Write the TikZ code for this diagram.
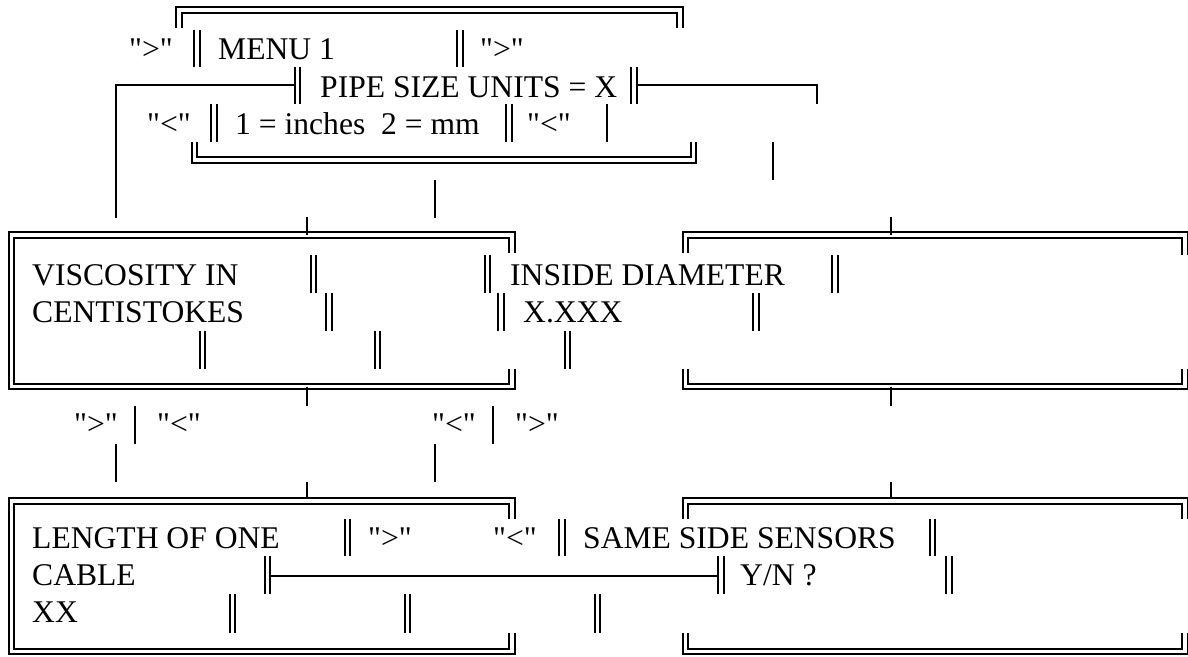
\documentclass[tikz,border=0pt]{standalone}
\usepackage{fontspec}
\setmainfont{Liberation Serif}
\usepackage{tikz}
\usetikzlibrary{positioning}
\newcommand{\qgt}{\textquotedbl>\textquotedbl}
\newcommand{\qlt}{\textquotedbl<\textquotedbl}

\begin{document}
\begin{tikzpicture}[
  x=1pt,y=-1pt,
  txt/.style={anchor=base west,inner sep=0pt,font=\fontsize{31.6}{37}\selectfont},
  dline/.style={double,double distance=3.4pt,line width=2pt,line join=miter},
  sline/.style={line width=2.5pt},
]
\useasboundingbox (0,0) rectangle (1188,656);

\node[txt] (gtA) at (129,59) {\qgt};
\node[txt] (menu) at (218,59) {MENU 1};
\node[txt] (gtB) at (480,59) {\qgt};
\node[txt] (pipe) at (320,97) {PIPE SIZE UNITS = X};
\node[txt] (ltA) at (147,134) {\qlt};
\node[txt] (units) at (235,134) {1 = inches\ \ 2 = mm};
\node[txt] (ltB) at (527,134) {\qlt};
\node[txt] (visc) at (32,285) {VISCOSITY IN};
\node[txt] (cst) at (32,322) {CENTISTOKES};
\node[txt] (diam) at (510,285) {INSIDE DIAMETER};
\node[txt] (xxx) at (523,322) {X.XXX};
\node[txt] (gtC) at (74,434) {\qgt};
\node[txt] (ltC) at (157,434) {\qlt};
\node[txt] (ltD) at (432,434) {\qlt};
\node[txt] (gtD) at (515,434) {\qgt};
\node[txt] (len) at (32,548) {LENGTH OF ONE};
\node[txt] (gtE) at (368,548) {\qgt};
\node[txt] (ltE) at (493,548) {\qlt};
\node[txt] (same) at (583,548) {SAME SIDE SENSORS};
\node[txt] (cable) at (32,585) {CABLE};
\node[txt] (yn) at (740,585) {Y/N ?};
\node[txt] (xx) at (32,622) {XX};

% menu frame
\draw[dline] (179,28) -- (179,10) -- (680,10) -- (680,28);
\draw[dline] (194.5,142) -- (194.5,160) -- (693.5,160) -- (693.5,142);
\draw[dline] (197,30) -- (197,67);
\draw[dline] (460,30) -- (460,67);
\draw[dline] (297.5,67) -- (297.5,104);
\draw[dline] (634,67) -- (634,104);
\draw[dline] (214,104) -- (214,142);
\draw[dline] (509,104) -- (509,142);
\draw[sline] (116,218) -- (116,85) -- (295,85);
\draw[sline] (636.5,85) -- (817,85) -- (817,104);
\draw[sline] (607,104) -- (607,142);
\draw[sline] (773,142) -- (773,180);
\draw[sline] (435,180) -- (435,218);

% upper boxes
\draw[dline] (512,253) -- (512,235) -- (11.5,235) -- (11.5,386.5) -- (512,386.5) -- (512,369);
\draw[dline] (685.5,253) -- (685.5,235) -- (1185,235) -- (1185,255);
\draw[dline] (685.5,369) -- (685.5,386.5) -- (1185,386.5) -- (1185,369);
\draw[sline] (307,217) -- (307,235);
\draw[sline] (891,217) -- (891,235);
\draw[sline] (307,386.5) -- (307,406);
\draw[sline] (891,386.5) -- (891,406);
\draw[dline] (313.5,255) -- (313.5,293);
\draw[dline] (487.5,255) -- (487.5,293);
\draw[dline] (835,255) -- (835,293);
\draw[dline] (329,293) -- (329,331);
\draw[dline] (501,293) -- (501,331);
\draw[dline] (756,293) -- (756,331);
\draw[dline] (202.5,331) -- (202.5,369);
\draw[dline] (377.5,331) -- (377.5,369);
\draw[dline] (567.5,331) -- (567.5,369);

% between
\draw[sline] (135,406) -- (135,444);
\draw[sline] (493,406) -- (493,444);
\draw[sline] (116,444) -- (116,482);
\draw[sline] (435,444) -- (435,482);
\draw[sline] (307,482) -- (307,501);
\draw[sline] (891,482) -- (891,501);

% lower boxes
\draw[dline] (512,519) -- (512,501) -- (11.5,501) -- (11.5,651.5) -- (512,651.5) -- (512,633);
\draw[dline] (685.5,519) -- (685.5,501) -- (1185,501) -- (1185,519);
\draw[dline] (685.5,633) -- (685.5,651.5) -- (1185,651.5) -- (1185,633);
\draw[dline] (347.5,519) -- (347.5,556);
\draw[dline] (562,519) -- (562,556);
\draw[dline] (932.5,519) -- (932.5,556);
\draw[dline] (267.5,556) -- (267.5,594);
\draw[dline] (721,556) -- (721,594);
\draw[dline] (949,556) -- (949,594);
\draw[dline] (232.5,594) -- (232.5,633);
\draw[dline] (407.5,594) -- (407.5,633);
\draw[dline] (597.5,594) -- (597.5,633);
\draw[sline] (270,576) -- (718.5,576);
\end{tikzpicture}
\end{document}
